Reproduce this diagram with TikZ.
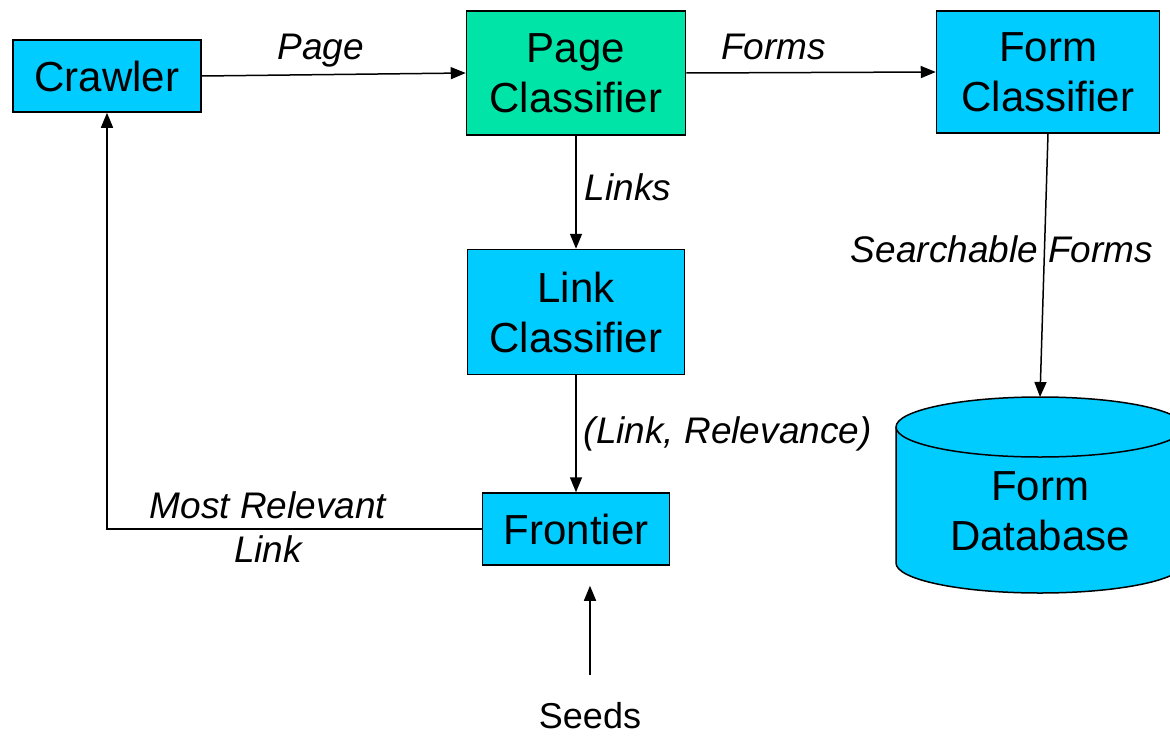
\documentclass[tikz,border=0pt]{standalone}
\usepackage{fontspec}
\setmainfont{Liberation Sans}
\usetikzlibrary{arrows.meta}
\definecolor{boxblue}{RGB}{0,204,255}
\definecolor{boxgreen}{RGB}{0,228,168}
\begin{document}
\begin{tikzpicture}[x=1pt,y=-1pt,
  box/.style={draw=black, line width=1.5pt, fill=boxblue, inner sep=0pt, align=center,
    font=\fontsize{42}{50}\selectfont},
  lbl/.style={inner sep=0pt, align=center, font=\fontsize{37}{44}\selectfont\itshape},
  arr/.style={draw=black, line width=1.5pt, -{Triangle[length=15pt,width=12pt]}}]
\clip (0,0) rectangle (1170,736);
\fill[white] (0,0) rectangle (1170,736);
% nodes
\node[box, minimum width=188pt, minimum height=72pt] (cr) at (107,76) {Crawler};
\node[box, fill=boxgreen, minimum width=219pt, minimum height=124pt] (pc) at (576,73) {Page\\Classifier};
\node[box, minimum width=223pt, minimum height=122pt] (fc) at (1048,72) {Form\\Classifier};
\node[box, minimum width=217pt, minimum height=125pt] (lc) at (576,312) {Link\\Classifier};
\node[box, minimum width=187pt, minimum height=72pt] (fr) at (576,529) {Frontier};
% cylinder
\filldraw[fill=boxblue, draw=black, line width=1.5pt]
  (896,427) -- (896,563) arc[start angle=180,end angle=360,x radius=144pt,y radius=30pt]
  -- (1184,427) arc[start angle=0,end angle=180,x radius=144pt,y radius=30pt] -- cycle;
\draw[black, line width=1.5pt] (896,427) arc[start angle=180,end angle=360,x radius=144pt,y radius=30pt];
\coordinate (dbtop) at (1040,397);
\node[inner sep=0pt, align=center, font=\fontsize{42}{50}\selectfont] (db) at (1040,511) {Form\\Database};
\node[inner sep=0pt, font=\fontsize{36}{43}\selectfont] (seeds) at (590,716) {Seeds};
% connectors
\draw[arr] (cr.east) -- node[lbl, above=7pt, pos=0.45] (lpage) {Page} (pc.west);
\draw[arr] (pc.east) -- node[lbl, above=12pt, pos=0.35] (lforms) {Forms} (fc.west);
\draw[arr] (pc.south) -- node[lbl, right=8pt, pos=0.46] (llinks) {Links} (lc.north);
\draw[arr] (lc.south) -- node[lbl, right=7pt, pos=0.5] (lrel) {(Link, Relevance)} (fr.north);
\draw[arr] (fc.south) -- (dbtop);
\node[lbl] (lsf) at (1002,249) {Searchable Forms};
\draw[arr] (fr.west) -| (cr.south);
\node[lbl] (lmost) at (268,527) {Most Relevant\\Link};
\draw[arr, shorten <=28pt, shorten >=20pt] (seeds.north) -- (seeds.north |- fr.south);
\end{tikzpicture}
\end{document}
